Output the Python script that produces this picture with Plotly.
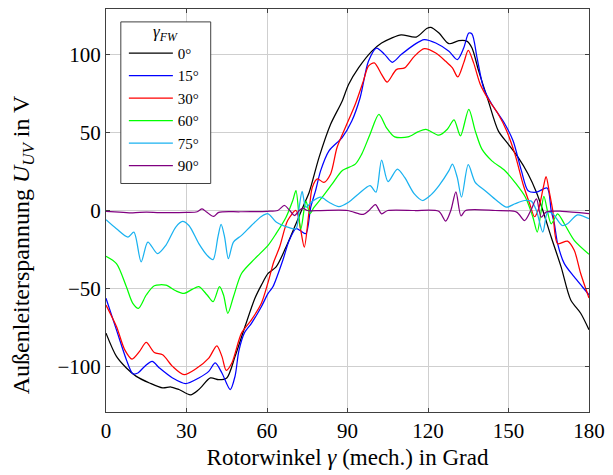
import plotly.graph_objects as go

# ---------------- data ----------------
x_0 = [0, 3.9, 7.6, 11.3, 16.2, 21.1, 24.2, 27.2, 31.5, 34.6, 38.9, 42, 45, 48.1, 51.8, 55.5, 57.9, 60.4, 63.4, 67.1, 70.8, 73.9, 75.7, 79.4, 83.7, 88, 90.4, 94.1, 99, 102.7, 106.4, 110, 115.6, 119.5, 121.1, 124.1, 127.8, 131.5, 134.6, 136.4, 138.9, 142.5, 146.2, 149.9, 153.6, 157.3, 160.4, 162.8, 165.9, 169.6, 173.2, 176.9, 180]
y_0 = [-78.5, -93.4, -100.8, -106.2, -110.4, -113.6, -113, -114.6, -118, -114.6, -107.2, -108.3, -107.2, -93.4, -74.3, -56.2, -47.8, -40.3, -36.1, -23.4, -8.5, 4.3, 11.5, 34, 55.2, 70, 80.7, 91.3, 101.9, 107.2, 110.4, 112.5, 111, 116.5, 117.2, 113.6, 106.8, 108.7, 108.3, 104, 89.2, 70, 51, 42.5, 34, 23.4, 11.7, 0, -17, -36.1, -57.3, -65.8, -76.4]

x_15 = [0, 3.9, 7.6, 10, 11.9, 14.4, 17.2, 19.9, 24.8, 29.7, 34.6, 38.3, 40.7, 43.2, 46.3, 48.1, 49.5, 51.7, 54.2, 57.9, 60.4, 62.2, 65.9, 68.3, 70.8, 72.5, 74.5, 76.3, 78.1, 80, 83.1, 88, 91.6, 94.7, 97.8, 100.8, 103.9, 106.7, 110, 114.9, 118.6, 122.9, 127.8, 130.9, 133.3, 135.2, 136.4, 138.3, 140.7, 143.8, 148.7, 151.7, 154.8, 157.3, 160.4, 164.4, 165.9, 167.1, 168.3, 170.8, 174.5, 177.5, 180]
y_15 = [-56.2, -76.4, -95.5, -104.5, -104, -99.8, -96.6, -100.8, -107.2, -110.8, -107.2, -103, -97.6, -104, -114.6, -106, -90, -78, -72.2, -61.6, -53.1, -48.8, -31.8, -19.1, -11.7, -13, -14.8, 2.1, 12.7, 25.5, 38.2, 46.7, 57.3, 72.2, 95.5, 104, 99.8, 94.9, 99.8, 106.2, 109.4, 107.2, 101.9, 96.6, 104, 113.6, 113, 97.6, 78.5, 68, 55.2, 44.6, 25.5, 12.7, 11.7, 14.4, 0, -8.5, -21.2, -34, -42.5, -48.8, -54]

x_30 = [0, 3.9, 7, 9.7, 12.5, 15, 18, 21.1, 24.8, 29.1, 33.4, 38.3, 41.3, 43.2, 44.8, 46.9, 50.5, 54.2, 57.9, 60.4, 62.5, 64.7, 67.7, 70.8, 72.5, 73.9, 75.7, 76.9, 78.8, 81.2, 83.7, 86.1, 89.2, 92.9, 95.9, 97.8, 100, 102.7, 104.8, 108.2, 111.3, 114.9, 118.6, 122.9, 126.6, 129.1, 131.1, 133.3, 135, 137, 139.5, 142.5, 146.2, 149.3, 152.4, 155.4, 157.9, 159.7, 161.2, 163, 164, 165.2, 166.5, 168.3, 172, 174.5, 176.9, 180]
y_30 = [-60.5, -74.3, -89.2, -95.1, -90.2, -84.5, -90.9, -92.4, -99.8, -105.1, -101.5, -94.5, -86.6, -93.4, -102.3, -97.6, -78.5, -70, -59.4, -46, -33, -23.4, -6.4, 0, -12, -23.4, 0, 14.9, 20.2, 18, 23.4, 40.3, 53.1, 68, 82.8, 92.4, 94.5, 87.1, 82.2, 90.2, 91.3, 98.7, 103.6, 100.8, 95.5, 91.3, 85.5, 94.5, 102.5, 94.5, 80.7, 71.1, 61.6, 51, 36.1, 17, 4.3, -4, 1, 15, 21.7, 12, 0, -21.2, -19.6, -25.5, -40.3, -56]

x_60 = [0, 3.9, 7.6, 10, 12.1, 15, 18, 22.3, 26, 29.1, 32.1, 34.6, 37.7, 39.9, 42.3, 43.8, 45.4, 47.5, 50.5, 55.5, 60.4, 63.4, 67.1, 69.6, 70.8, 72.6, 74.5, 76, 77.5, 80.6, 84.3, 88, 92.9, 95.3, 98.4, 101.7, 104.5, 107.6, 112.5, 116.2, 119.2, 124.1, 127.2, 129.7, 132.1, 135.2, 137.6, 140.1, 143.8, 148.7, 152.4, 156.3, 159.1, 160.7, 162.2, 163.2, 165.9, 168.3, 170.8, 174.5, 180]
y_60 = [-29.3, -34, -48.8, -59.4, -62.6, -54.1, -48.2, -47.8, -51.4, -53.1, -50.5, -48.8, -54.1, -58.4, -48.8, -54.1, -65.8, -55.2, -40.3, -30.8, -22.3, -14.8, -4.3, 6.4, 12.7, -12, 6, -2, 2, 8.5, 17, 25.5, 29.7, 36.1, 48.8, 61.6, 53.1, 47.1, 47.1, 50.3, 52, 48.2, 52, 58, 47.8, 64.8, 51, 39.3, 31.8, 25.5, 18, 8.5, -4.3, -13.8, 0, 9, -8.5, -2.1, -8.5, -19.1, -28]

x_75 = [0, 3.9, 8.2, 10.4, 13.1, 15.6, 19.2, 22.3, 26, 28.5, 30.9, 34.6, 37.7, 39.9, 41.7, 42.9, 44.2, 45.6, 47.5, 50.5, 54.2, 57.9, 60.4, 63.4, 68.3, 70.8, 72, 73.1, 74.5, 77, 80, 83.1, 86.8, 90.4, 94.1, 98.4, 100.6, 102.7, 105.1, 108.6, 111.3, 114.9, 118, 121.1, 124.1, 127.8, 129.1, 130.9, 132.5, 135, 137.6, 141.3, 145.6, 149.3, 152.4, 156, 158.5, 160.4, 162.8, 164.6, 166.5, 170, 172, 175.7, 180]
y_75 = [-5.9, -11.7, -17, -13.8, -32.9, -20.2, -27.6, -22.3, -10.6, -7, -9.6, -21.2, -28.7, -31.4, -17, -8.9, -17, -30.8, -20.2, -15.9, -9.6, -3.8, -2.1, -7.4, -11, -11.7, 2.1, 12.3, 2.1, 6, 8.5, 5.3, 2.5, 5.3, 10.6, 15.9, 11.7, 32.3, 18.5, 26.5, 21.2, 10.6, 6.4, 10, 15.9, 25.5, 29.7, 21.2, 8.5, 29.3, 18, 12.7, 6.4, 2.1, 4.3, 6.4, 6, 0, -13.8, -1, -2.1, -9.6, -8.5, -2.8, -5.3]

x_90 = [0, 5, 10, 15, 20, 30, 34, 35.8, 37.5, 40.1, 42, 50, 60, 64, 66.5, 68.5, 70.2, 72, 73.4, 75, 80, 90, 95.9, 98, 100.4, 102.7, 105, 115, 124, 126.6, 128.5, 130.4, 132.3, 134, 145, 153, 156, 158.3, 160.4, 162.2, 164, 170, 180]
y_90 = [-0.5, -1, -1.5, -1, -1.3, -1.2, -0.8, 1, -1, -3.8, -1.2, -0.8, -0.5, 0, 3.2, 0, -3.2, 0, 1.5, 0, 0, 0, -2.5, 0, 3.8, -2.1, 0, 0, -0.5, -6.8, 0, 12, -3.5, 0, 0, -1, -6.4, 0, 7.4, -4.3, -1, -0.5, -2]

series_names = ["0°", "15°", "30°", "60°", "75°", "90°"]
series_x = [x_0, x_15, x_30, x_60, x_75, x_90]
series_y = [y_0, y_15, y_30, y_60, y_75, y_90]
series_colors = ["#000000", "#0000ff", "#ff0000", "#00ff00", "#1ab2f0", "#800080"]

x_ticks = [0, 30, 60, 90, 120, 150, 180]
y_ticks = [-100, -50, 0, 50, 100]

legend_title = "<i>γ</i><sub><i>FW</i></sub>"
x_title = "Rotorwinkel <i>γ</i> (mech.) in Grad"
y_title = "Außenleiterspannung <i>U</i><sub><i>UV</i></sub> in V"

FONT = "Liberation Serif"

fig = go.Figure()
for name, xs, ys, col in zip(series_names, series_x, series_y, series_colors):
    fig.add_trace(go.Scatter(x=xs, y=ys, mode="lines", name=name,
                             line=dict(color=col, width=1.25, shape="spline", smoothing=0.8)))

axis_common = dict(showline=True, linecolor="#404040", linewidth=1, mirror="allticks",
                   ticks="inside", ticklen=4, tickcolor="#404040", tickwidth=1,
                   showgrid=True, gridcolor="#cfcfcf", gridwidth=1, zeroline=False,
                   tickfont=dict(family=FONT, size=21, color="black"))

fig.update_layout(
    width=613, height=475,
    margin=dict(l=106, r=18, t=8, b=63),
    paper_bgcolor="white", plot_bgcolor="white",
    font=dict(family=FONT, size=19, color="black"),
    xaxis=dict(range=[0, 180], tickvals=x_ticks,
               title=dict(text=x_title, font=dict(family=FONT, size=23), standoff=6),
               **axis_common),
    yaxis=dict(range=[-129, 129], tickvals=y_ticks, **axis_common),
    legend=dict(x=0.037, y=0.931, xanchor="left", yanchor="top",
                bgcolor="white", borderwidth=0,
                font=dict(family=FONT, size=15, color="black"),
                itemwidth=44, tracegroupgap=0),
    showlegend=True,
    shapes=[dict(type="rect", xref="paper", yref="paper",
                 x0=0.0307, x1=0.2168, y0=0.567, y1=0.968,
                 line=dict(color="#404040", width=1), fillcolor="white", layer="above")],
    annotations=[
        dict(text=legend_title, xref="paper", yref="paper", x=0.1227, y=0.9406,
             xanchor="center", yanchor="middle", showarrow=False,
             font=dict(family=FONT, size=17, color="black")),
        dict(text=y_title, xref="paper", yref="paper", x=-0.172, y=0.416,
             xanchor="center", yanchor="middle", textangle=-90, showarrow=False,
             font=dict(family=FONT, size=24, color="black")),
    ],
)

fig.write_html("out.html")
